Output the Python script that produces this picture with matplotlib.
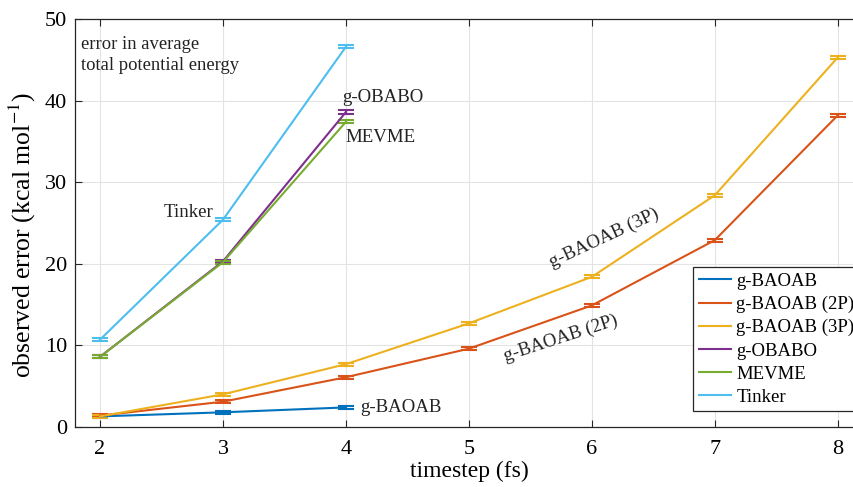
import numpy as np
import matplotlib
matplotlib.use("Agg")
import matplotlib.pyplot as plt

plt.rcParams['font.family'] = ['Liberation Serif', 'DejaVu Serif']
plt.rcParams['mathtext.fontset'] = 'stix'

# данные
steps_short = [2, 3, 4]
steps_long = [2, 3, 4, 5, 6, 7, 8]

baoab = [1.3, 1.8, 2.4]
baoab_2p = [1.4, 3.1, 6.1, 9.6, 14.9, 22.9, 38.2]
baoab_3p = [1.3, 4.0, 7.7, 12.7, 18.4, 28.4, 45.3]
obabo = [8.6, 20.3, 38.6]
mevme = [8.6, 20.2, 37.4]
tinker = [10.7, 25.4, 46.6]

err_short = [0.2, 0.2, 0.2]
err_long = [0.2, 0.2, 0.2, 0.2, 0.2, 0.2, 0.2]

names = ['g-BAOAB', 'g-BAOAB (2P)', 'g-BAOAB (3P)', 'g-OBABO', 'MEVME', 'Tinker']
colors = ['#0072BD', '#D95319', '#EDB120', '#7E2F8E', '#77AC30', '#4DBEEE']

series = [
    (steps_short, baoab, err_short),
    (steps_long, baoab_2p, err_long),
    (steps_long, baoab_3p, err_long),
    (steps_short, obabo, err_short),
    (steps_short, mevme, err_short),
    (steps_short, tinker, err_short),
]

fig = plt.figure(figsize=(8.54, 4.87), dpi=100)
ax = fig.add_axes([75.4 / 854, 60 / 487, 787 / 854, 408 / 487])

handles = []
for (x, y, e), name, c in zip(series, names, colors):
    h = ax.errorbar(x, y, yerr=e, color=c, lw=1.5, capsize=6, capthick=1.5,
                    elinewidth=1.5, label=name)
    handles.append(h)

ax.set_xlim(1.8, 8.2)
ax.set_ylim(0, 50)
ax.set_xticks(range(2, 9))
ax.set_yticks(range(0, 51, 10))
ax.grid(True, color='#e3e3e3', lw=0.8)
ax.set_axisbelow(True)
ax.tick_params(direction='in', top=True, right=True, labelsize=16, length=5,
               color='#262626', width=0.8)
ax.tick_params(axis='x', pad=9)
ax.tick_params(axis='y', pad=6)
for s in ax.spines.values():
    s.set_color('#262626')
    s.set_linewidth(0.9)

ax.set_xlabel('timestep (fs)', fontsize=17, labelpad=2)
ax.set_ylabel('observed error (kcal mol$^{-1}$)', fontsize=18.5)
ax.yaxis.set_label_coords(-0.047, 0.47)

# подписи на графике
txt = dict(fontsize=13.6, color='#222222')
ax.text(1.845, 45.6, 'error in average\ntotal potential energy', fontsize=13.4,
        color='#222222', va='center', ha='left', linespacing=1.3)
ax.text(3.97, 40.4, 'g-OBABO', ha='left', va='center', **txt)
ax.text(4.0, 35.5, 'MEVME', ha='left', va='center', **txt)
ax.text(2.92, 26.3, 'Tinker', ha='right', va='center', **txt)
ax.text(4.12, 2.4, 'g-BAOAB', ha='left', va='center', **txt)
ax.text(6.1, 23.2, 'g-BAOAB (3P)', ha='center', va='center', rotation=25, **txt)
ax.text(5.75, 10.9, 'g-BAOAB (2P)', ha='center', va='center', rotation=18, **txt)

leg = ax.legend(handles=[h.lines[0] for h in handles], labels=names,
                loc='upper left', bbox_to_anchor=(0.785, 0.392), borderaxespad=0,
                fontsize=13.5, frameon=True, fancybox=False, handlelength=1.7,
                handletextpad=0.3, labelspacing=0.32, borderpad=0.3)
leg.get_frame().set_edgecolor('#262626')
leg.get_frame().set_linewidth(0.9)
leg.get_frame().set_alpha(1)

fig.savefig('out.png', dpi=100)
